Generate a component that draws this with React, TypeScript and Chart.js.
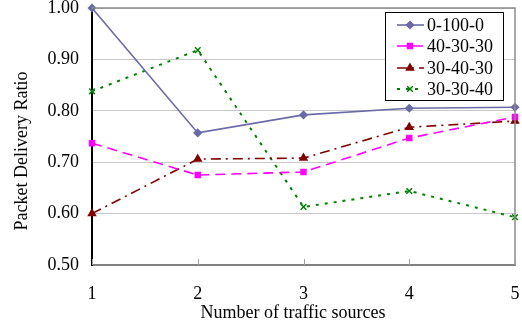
import React, { useEffect, useRef } from "react";
import { Chart, registerables } from "chart.js";
import { drawPoint } from "chart.js/helpers";

Chart.register(...registerables);

const sources = [1, 2, 3, 4, 5];
const series0_100_0 = [1.0, 0.757, 0.792, 0.805, 0.807];
const series40_30_30 = [0.737, 0.675, 0.681, 0.747, 0.788];
const series30_40_30 = [0.6, 0.706, 0.708, 0.768, 0.78];
const series30_30_40 = [0.838, 0.918, 0.613, 0.644, 0.593];
const seriesNames = ["0-100-0", "40-30-30", "30-40-30", "30-30-40"];
const yTicks = [0.5, 0.6, 0.7, 0.8, 0.9, 1.0];
const xTitle = "Number of traffic sources";
const yTitle = "Packet Delivery Ratio";

const FONT = "'Liberation Serif', 'Times New Roman', serif";

const framePlugin = {
  id: "frame",
  afterDatasetsDraw(chart: any) {
    const { ctx, chartArea } = chart;
    const xs = chart.scales.x;
    ctx.save();
    ctx.strokeStyle = "#8c8c8c";
    ctx.lineWidth = 1.5;
    ctx.beginPath();
    ctx.moveTo(chartArea.left, chartArea.top);
    ctx.lineTo(chartArea.right, chartArea.top);
    ctx.lineTo(chartArea.right, chartArea.bottom);
    ctx.stroke();
    ctx.strokeStyle = "#a0a0a0";
    ctx.lineWidth = 1;
    for (const v of sources) {
      const px = Math.round(xs.getPixelForValue(v)) + 0.5;
      ctx.beginPath();
      ctx.moveTo(px, chartArea.bottom);
      ctx.lineTo(px, chartArea.bottom - 6);
      ctx.stroke();
    }
    ctx.restore();
  },
  afterDraw(chart: any) {
    const { ctx } = chart;
    // axis titles
    ctx.save();
    ctx.fillStyle = "#000";
    ctx.font = `18px ${FONT}`;
    ctx.textAlign = "center";
    ctx.textBaseline = "middle";
    ctx.fillText(xTitle, 293, 313);
    ctx.translate(22, 151);
    ctx.rotate(-Math.PI / 2);
    ctx.fillText(yTitle, 0, 0);
    ctx.restore();
    // legend
    const bx = 385, by = 12, bw = 118, bh = 88;
    ctx.save();
    ctx.fillStyle = "#ffffff";
    ctx.fillRect(bx, by, bw, bh);
    ctx.strokeStyle = "#000000";
    ctx.lineWidth = 1;
    ctx.strokeRect(bx + 0.5, by + 0.5, bw, bh);
    const rows = [25, 46, 68, 89];
    chart.data.datasets.forEach((ds: any, i: number) => {
      const y = rows[i];
      ctx.save();
      ctx.strokeStyle = ds.borderColor;
      ctx.fillStyle = ds.pointBackgroundColor;
      ctx.lineWidth = ds.borderWidth;
      ctx.setLineDash(ds.borderDash || []);
      ctx.beginPath();
      ctx.moveTo(397, y);
      ctx.lineTo(424, y);
      ctx.stroke();
      ctx.setLineDash([]);
      ctx.lineWidth = 1.5;
      drawPoint(ctx, {
        pointStyle: ds.pointStyle,
        radius: ds.pointRadius,
        rotation: 0,
        borderWidth: 1.5,
      } as any, 410, y);
      ctx.restore();
      ctx.fillStyle = "#000";
      ctx.font = `18px ${FONT}`;
      ctx.textBaseline = "middle";
      ctx.textAlign = "left";
      ctx.fillText(ds.label, 427, y + 1);
    });
    ctx.restore();
  },
};

export default function App() {
  const ref = useRef<HTMLCanvasElement | null>(null);
  useEffect(() => {
    document.body.style.margin = "0";
    const colors = ["#6a6aa6", "#ff00ff", "#800000", "#008000"];
    const styles = ["rectRot", "rect", "triangle", "crossRot"];
    const dashes = [[], [10, 6], [10, 5, 2, 5], [3, 6]];
    const widths = [1.6, 1.6, 1.6, 2];
    const radii = [3.5, 3.5, 4, 4];
    const vals = [series0_100_0, series40_30_30, series30_40_30, series30_30_40];
    const chart = new Chart(ref.current as HTMLCanvasElement, {
      type: "line",
      data: {
        datasets: seriesNames.map((name, i) => ({
          label: name,
          data: sources.map((s, j) => ({ x: s, y: vals[i][j] })),
          borderColor: colors[i],
          backgroundColor: colors[i],
          pointBackgroundColor: colors[i],
          pointBorderColor: colors[i],
          borderWidth: widths[i],
          borderDash: dashes[i],
          pointStyle: styles[i],
          pointRadius: radii[i],
          pointBorderWidth: 1.5,
          tension: 0,
          clip: false as any,
        })),
      },
      options: {
        animation: false,
        responsive: false,
        maintainAspectRatio: false,
        layout: { padding: { top: 8, right: 7, left: 0, bottom: 0 } },
        plugins: { legend: { display: false }, tooltip: { enabled: false } },
        scales: {
          x: {
            type: "linear",
            min: 1,
            max: 5,
            afterFit: (s: any) => { s.height = 59; s.paddingLeft = 0; s.paddingRight = 0; },
            afterBuildTicks: (s: any) => { s.ticks = sources.map((v) => ({ value: v })); },
            grid: { display: false, drawTicks: false },
            border: { display: true, color: "#808080", width: 2 },
            ticks: {
              font: { family: FONT, size: 18 },
              color: "#000",
              padding: 18,
              callback: (v: any) => String(v),
            },
            title: { display: false },
          },
          y: {
            min: 0.5,
            max: 1.0,
            afterFit: (s: any) => { s.width = 92; s.paddingTop = 0; s.paddingBottom = 0; },
            afterBuildTicks: (s: any) => { s.ticks = yTicks.map((v) => ({ value: v })); },
            grid: { color: "#c8c8c8", lineWidth: 1, drawTicks: false },
            border: { display: true, color: "#000", width: 2 },
            ticks: {
              font: { family: FONT, size: 18 },
              color: "#000",
              padding: 13,
              callback: (v: any) => Number(v).toFixed(2),
            },
            title: { display: false },
          },
        },
      },
      plugins: [framePlugin],
    });
    return () => chart.destroy();
  }, []);
  return (
    <div style={{ width: 522, height: 324 }}>
      <canvas ref={ref} width={522} height={324} />
    </div>
  );
}
